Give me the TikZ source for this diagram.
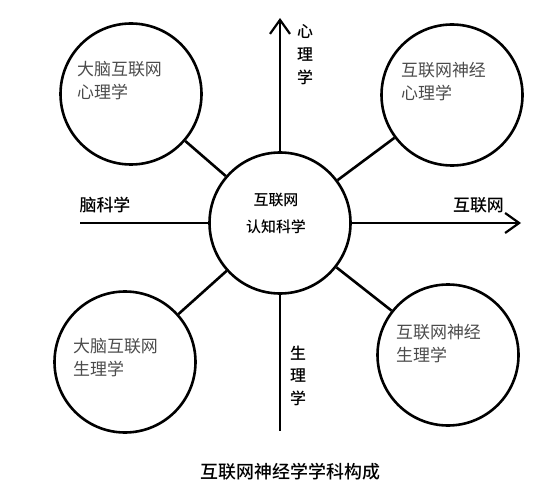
\documentclass[tikz,border=0pt]{standalone}
\usepackage{fontspec}
\newfontfamily\cjk{Noto Sans CJK SC}
\newfontfamily\cjkm{Noto Sans CJK SC Medium}
\usetikzlibrary{arrows.meta}
\definecolor{txtgray}{RGB}{75,75,75}
\tikzset{
  ring/.style={circle,draw=black,line width=2.6bp,minimum size=141bp,inner sep=0pt},
  link/.style={line width=2.6bp},
  axis/.style={line width=2.2bp},
  axisarrow/.style={axis,-{Straight Barb[length=14bp,width=20bp,line width=2.2bp]}},
  intext/.style={text=txtgray,anchor=west,align=left,inner sep=0pt,font=\cjk\fontsize{17}{23}\selectfont},
  lab/.style={inner sep=0pt,align=center,font=\cjkm\fontsize{17}{23}\selectfont},
  vlab/.style={inner sep=0pt,align=center,font=\cjkm\fontsize{16}{23}\selectfont}
}
\begin{document}
\begin{tikzpicture}[x=1bp,y=-1bp]
\useasboundingbox (0,0) rectangle (550,486);
\node[ring] (c) at (280,223) {};
\node[ring] (tl) at (131,94) {};
\node[ring] (tr) at (452,95) {};
\node[ring] (bl) at (125,362) {};
\node[ring] (br) at (448,355) {};
\draw[link] (tl) -- (c);
\draw[link] (tr) -- (c);
\draw[link] (bl) -- (c);
\draw[link] (br) -- (c);
\coordinate (top) at (280,18);
\coordinate (bot) at (280,431);
\coordinate (lft) at (80,223);
\coordinate (rgt) at (521,223);
\draw[axisarrow] (c.north) -- (top);
\draw[axis] (c.south) -- (bot);
\draw[axis] (lft) -- (c.west);
\draw[axisarrow] (c.east) -- (rgt);
\node[intext] (ttl) at (77,81) {大脑互联网\\心理学};
\node[intext] (ttr) at (401,81.5) {互联网神经\\心理学};
\node[intext] (tbl) at (73,358) {大脑互联网\\生理学};
\node[intext] (tbr) at (396,344) {互联网神经\\生理学};
\node[lab,font=\cjkm\fontsize{15}{27}\selectfont] (tc) at (276,213.5) {互联网\\认知科学};
\node[vlab] (vt) at (305,55) {心\\理\\学};
\node[vlab,font=\cjkm\fontsize{16}{22.5}\selectfont] (vb) at (298,375.5) {生\\理\\学};
\node[lab] (ll) at (105,205) {脑科学};
\node[lab] (lr) at (478.5,205) {互联网};
\node[lab,font=\cjkm\fontsize{18}{23}\selectfont] (cap) at (290.5,472) {互联网神经学学科构成};
\end{tikzpicture}
\end{document}
